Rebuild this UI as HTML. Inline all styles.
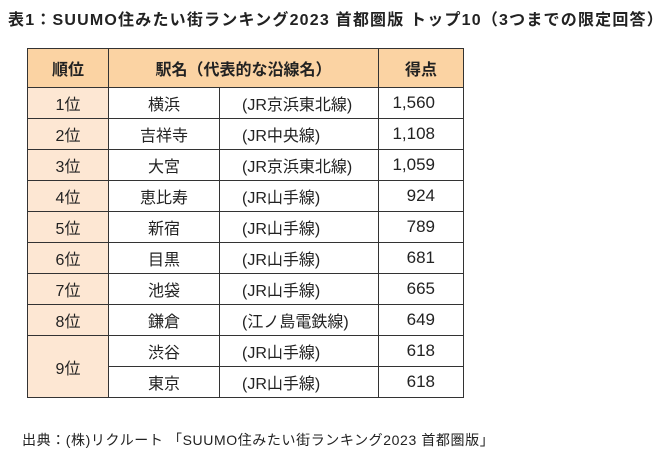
<!DOCTYPE html>
<html><head><meta charset="utf-8"><style>
body{margin:0;background:#fff;width:669px;height:463px;position:relative;font-family:"Liberation Sans","Noto Sans CJK JP",sans-serif;color:#222;overflow:hidden}
.t{position:absolute;left:8px;top:6px;font-size:16px;font-weight:bold;letter-spacing:1.2px;white-space:nowrap}
table{position:absolute;left:27px;top:48px;border-collapse:collapse;font-size:16px}
td{border:1.5px solid #333;height:30px;padding:0;text-align:center;background:#fff}
tr.h td{background:#fbd3a3;height:38px;font-weight:bold;font-size:16px}
td.r{background:#fde7d3}
td.n{text-align:right;padding-right:28px;font-size:17px}
td.l{text-align:left;padding-left:22px}
.f{position:absolute;left:22px;top:430px;font-size:14px;letter-spacing:0.6px;white-space:nowrap}
</style></head><body>
<div class="t">表1：SUUMO住みたい街ランキング2023 首都圏版 トップ10（3つまでの限定回答）</div>
<table>
<colgroup><col style="width:81px"><col style="width:111px"><col style="width:159px"><col style="width:85px"></colgroup>
<tr class="h"><td>順位</td><td colspan="2">駅名（代表的な沿線名）</td><td>得点</td></tr>
<tr><td class="r">1位</td><td>横浜</td><td class="l">(JR京浜東北線)</td><td class="n">1,560</td></tr>
<tr><td class="r">2位</td><td>吉祥寺</td><td class="l">(JR中央線)</td><td class="n">1,108</td></tr>
<tr><td class="r">3位</td><td>大宮</td><td class="l">(JR京浜東北線)</td><td class="n">1,059</td></tr>
<tr><td class="r">4位</td><td>恵比寿</td><td class="l">(JR山手線)</td><td class="n">924</td></tr>
<tr><td class="r">5位</td><td>新宿</td><td class="l">(JR山手線)</td><td class="n">789</td></tr>
<tr><td class="r">6位</td><td>目黒</td><td class="l">(JR山手線)</td><td class="n">681</td></tr>
<tr><td class="r">7位</td><td>池袋</td><td class="l">(JR山手線)</td><td class="n">665</td></tr>
<tr><td class="r">8位</td><td>鎌倉</td><td class="l">(江ノ島電鉄線)</td><td class="n">649</td></tr>
<tr><td class="r" rowspan="2">9位</td><td>渋谷</td><td class="l">(JR山手線)</td><td class="n">618</td></tr>
<tr><td>東京</td><td class="l">(JR山手線)</td><td class="n">618</td></tr>
</table>
<div class="f">出典：(株)リクルート 「SUUMO住みたい街ランキング2023 首都圏版」</div>
</body></html>
